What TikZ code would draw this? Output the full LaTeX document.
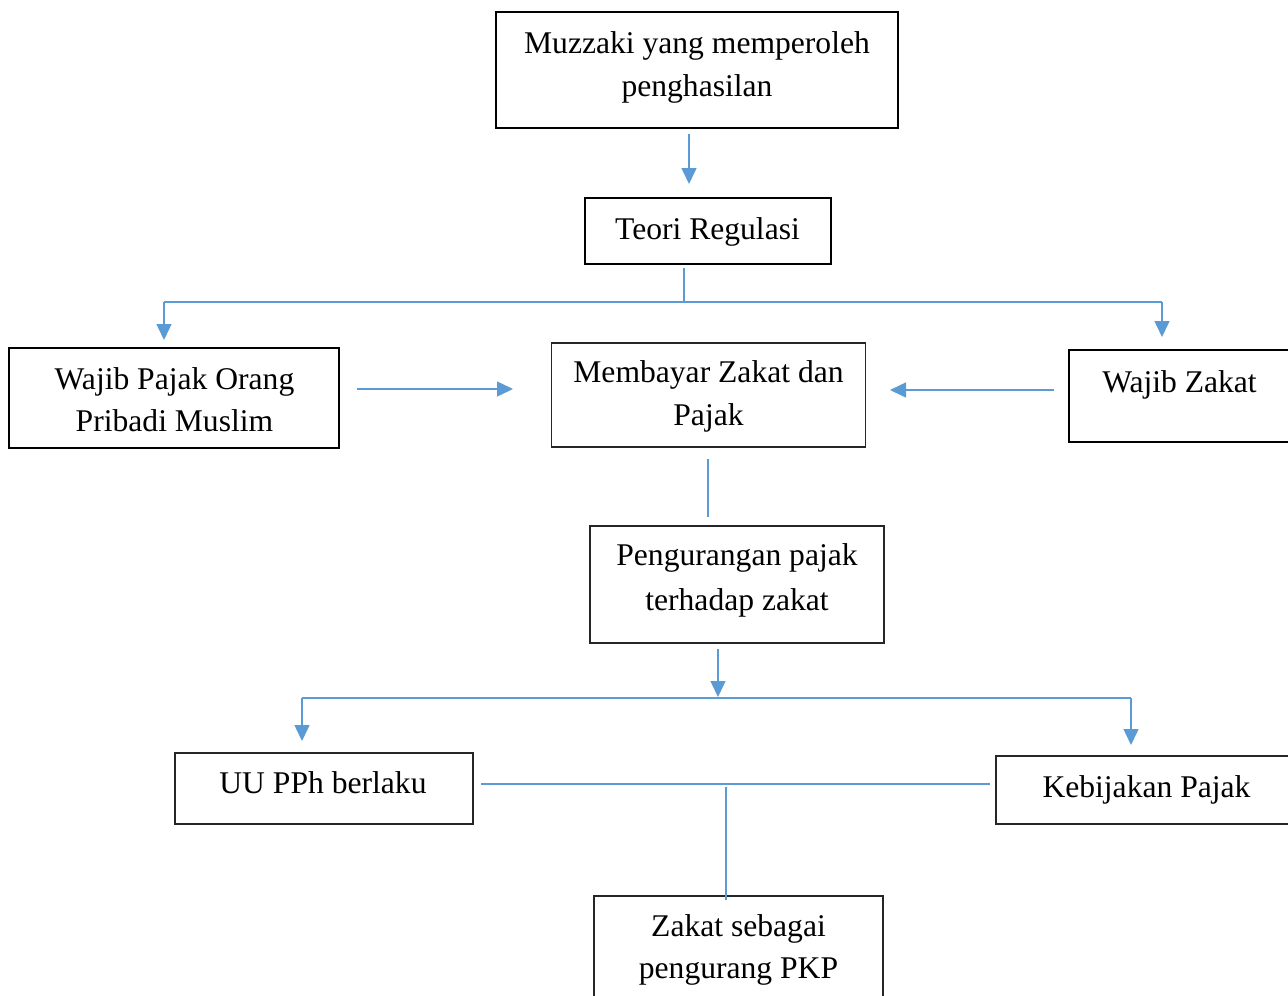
\documentclass[tikz,border=0pt]{standalone}
\usepackage{fontspec}
\setmainfont{Liberation Serif}
\usetikzlibrary{arrows.meta}
\definecolor{connblue}{HTML}{5B9BD5}
\begin{document}
\begin{tikzpicture}[x=1pt,y=-1pt,
  thickbox/.style={draw=black, line width=2.6pt, inner sep=0pt, rectangle},
  thinbox/.style={draw=black!85, line width=1.3pt, inner sep=0pt, rectangle},
  txt/.style={align=center, inner sep=0pt, font=\fontsize{31.6}{43}\selectfont},
  conn/.style={draw=connblue, line width=1.5pt},
  arr/.style={conn, -{Triangle[length=16pt,width=15pt]}}]
\useasboundingbox (0,0) rectangle (1288,996);
\clip (0,0) rectangle (1288,996);

% boxes
\node[thickbox, minimum width=402pt, minimum height=116pt] (b1) at (697,70) {};
\node[thickbox, minimum width=246pt, minimum height=66pt] (b2) at (708,231) {};
\node[thickbox, minimum width=330pt, minimum height=100pt] (b3) at (174,398) {};
\node[thinbox, minimum width=314pt, minimum height=104pt] (b4) at (708.3,395) {};
\node[thickbox, minimum width=225pt, minimum height=92pt] (b5) at (1181.5,396) {};
\node[thinbox, minimum width=294pt, minimum height=117pt] (b6) at (737,584.5) {};
\node[thinbox, minimum width=298pt, minimum height=71pt] (b7) at (324,788.5) {};
\node[thinbox, minimum width=298pt, minimum height=68pt] (b8) at (1145,790) {};
\node[thinbox, minimum width=289pt, minimum height=110pt] (b9) at (738.5,951) {};

% texts
\node[txt] (t1) at (697,67.2) {Muzzaki yang memperoleh\\penghasilan};
\node[txt] (t2) at (707.5,231.7) {Teori Regulasi};
\node[txt, font=\fontsize{31.6}{42}\selectfont] (t3) at (174.5,399.2) {Wajib Pajak Orang\\Pribadi Muslim};
\node[txt] (t4) at (708.5,396.5) {Membayar Zakat dan\\Pajak};
\node[txt] (t5) at (1179.5,384.6) {Wajib Zakat};
\node[txt, font=\fontsize{31.6}{45}\selectfont] (t6) at (737,580.2) {Pengurangan pajak\\terhadap zakat};
\node[txt] (t7) at (323,782.2) {UU PPh berlaku};
\node[txt] (t8) at (1146.5,789.7) {Kebijakan Pajak};
\node[txt, font=\fontsize{31.6}{42}\selectfont] (t9) at (738.5,949.7) {Zakat sebagai\\pengurang PKP};

% connector end points
\coordinate (c1a) at (689,134);
\coordinate (c1b) at (689,184);
\coordinate (c2a) at (684,268);
\coordinate (c2b) at (684,302);
\coordinate (c2l) at (164,302);
\coordinate (c2lt) at (164,340);
\coordinate (c2r) at (1162,302);
\coordinate (c2rt) at (1162,337);
\coordinate (c3a) at (357,389);
\coordinate (c3b) at (513,389);
\coordinate (c5a) at (1054,390);
\coordinate (c5b) at (890,390);
\coordinate (c4a) at (708,459);
\coordinate (c4b) at (708,517);
\coordinate (c6a) at (718,649);
\coordinate (c6b) at (718,697);
\coordinate (c7l) at (302,698);
\coordinate (c7lt) at (302,741);
\coordinate (c7r) at (1131,698);
\coordinate (c7rt) at (1131,745);
\coordinate (c8a) at (481,784);
\coordinate (c8b) at (990,784);
\coordinate (c9a) at (726,787);
\coordinate (c9b) at (726,900);

% connectors
\draw[arr] (c1a) -- (c1b);
\draw[conn] (c2a) -- (c2b);
\draw[conn] (c2l) -- (c2r);
\draw[arr] (c2l) -- (c2lt);
\draw[arr] (c2r) -- (c2rt);
\draw[arr] (c3a) -- (c3b);
\draw[arr] (c5a) -- (c5b);
\draw[conn] (c4a) -- (c4b);
\draw[arr] (c6a) -- (c6b);
\draw[conn] (c7l) -- (c7r);
\draw[arr] (c7l) -- (c7lt);
\draw[arr] (c7r) -- (c7rt);
\draw[conn] (c8a) -- (c8b);
\draw[conn] (c9a) -- (c9b);
\end{tikzpicture}
\end{document}
